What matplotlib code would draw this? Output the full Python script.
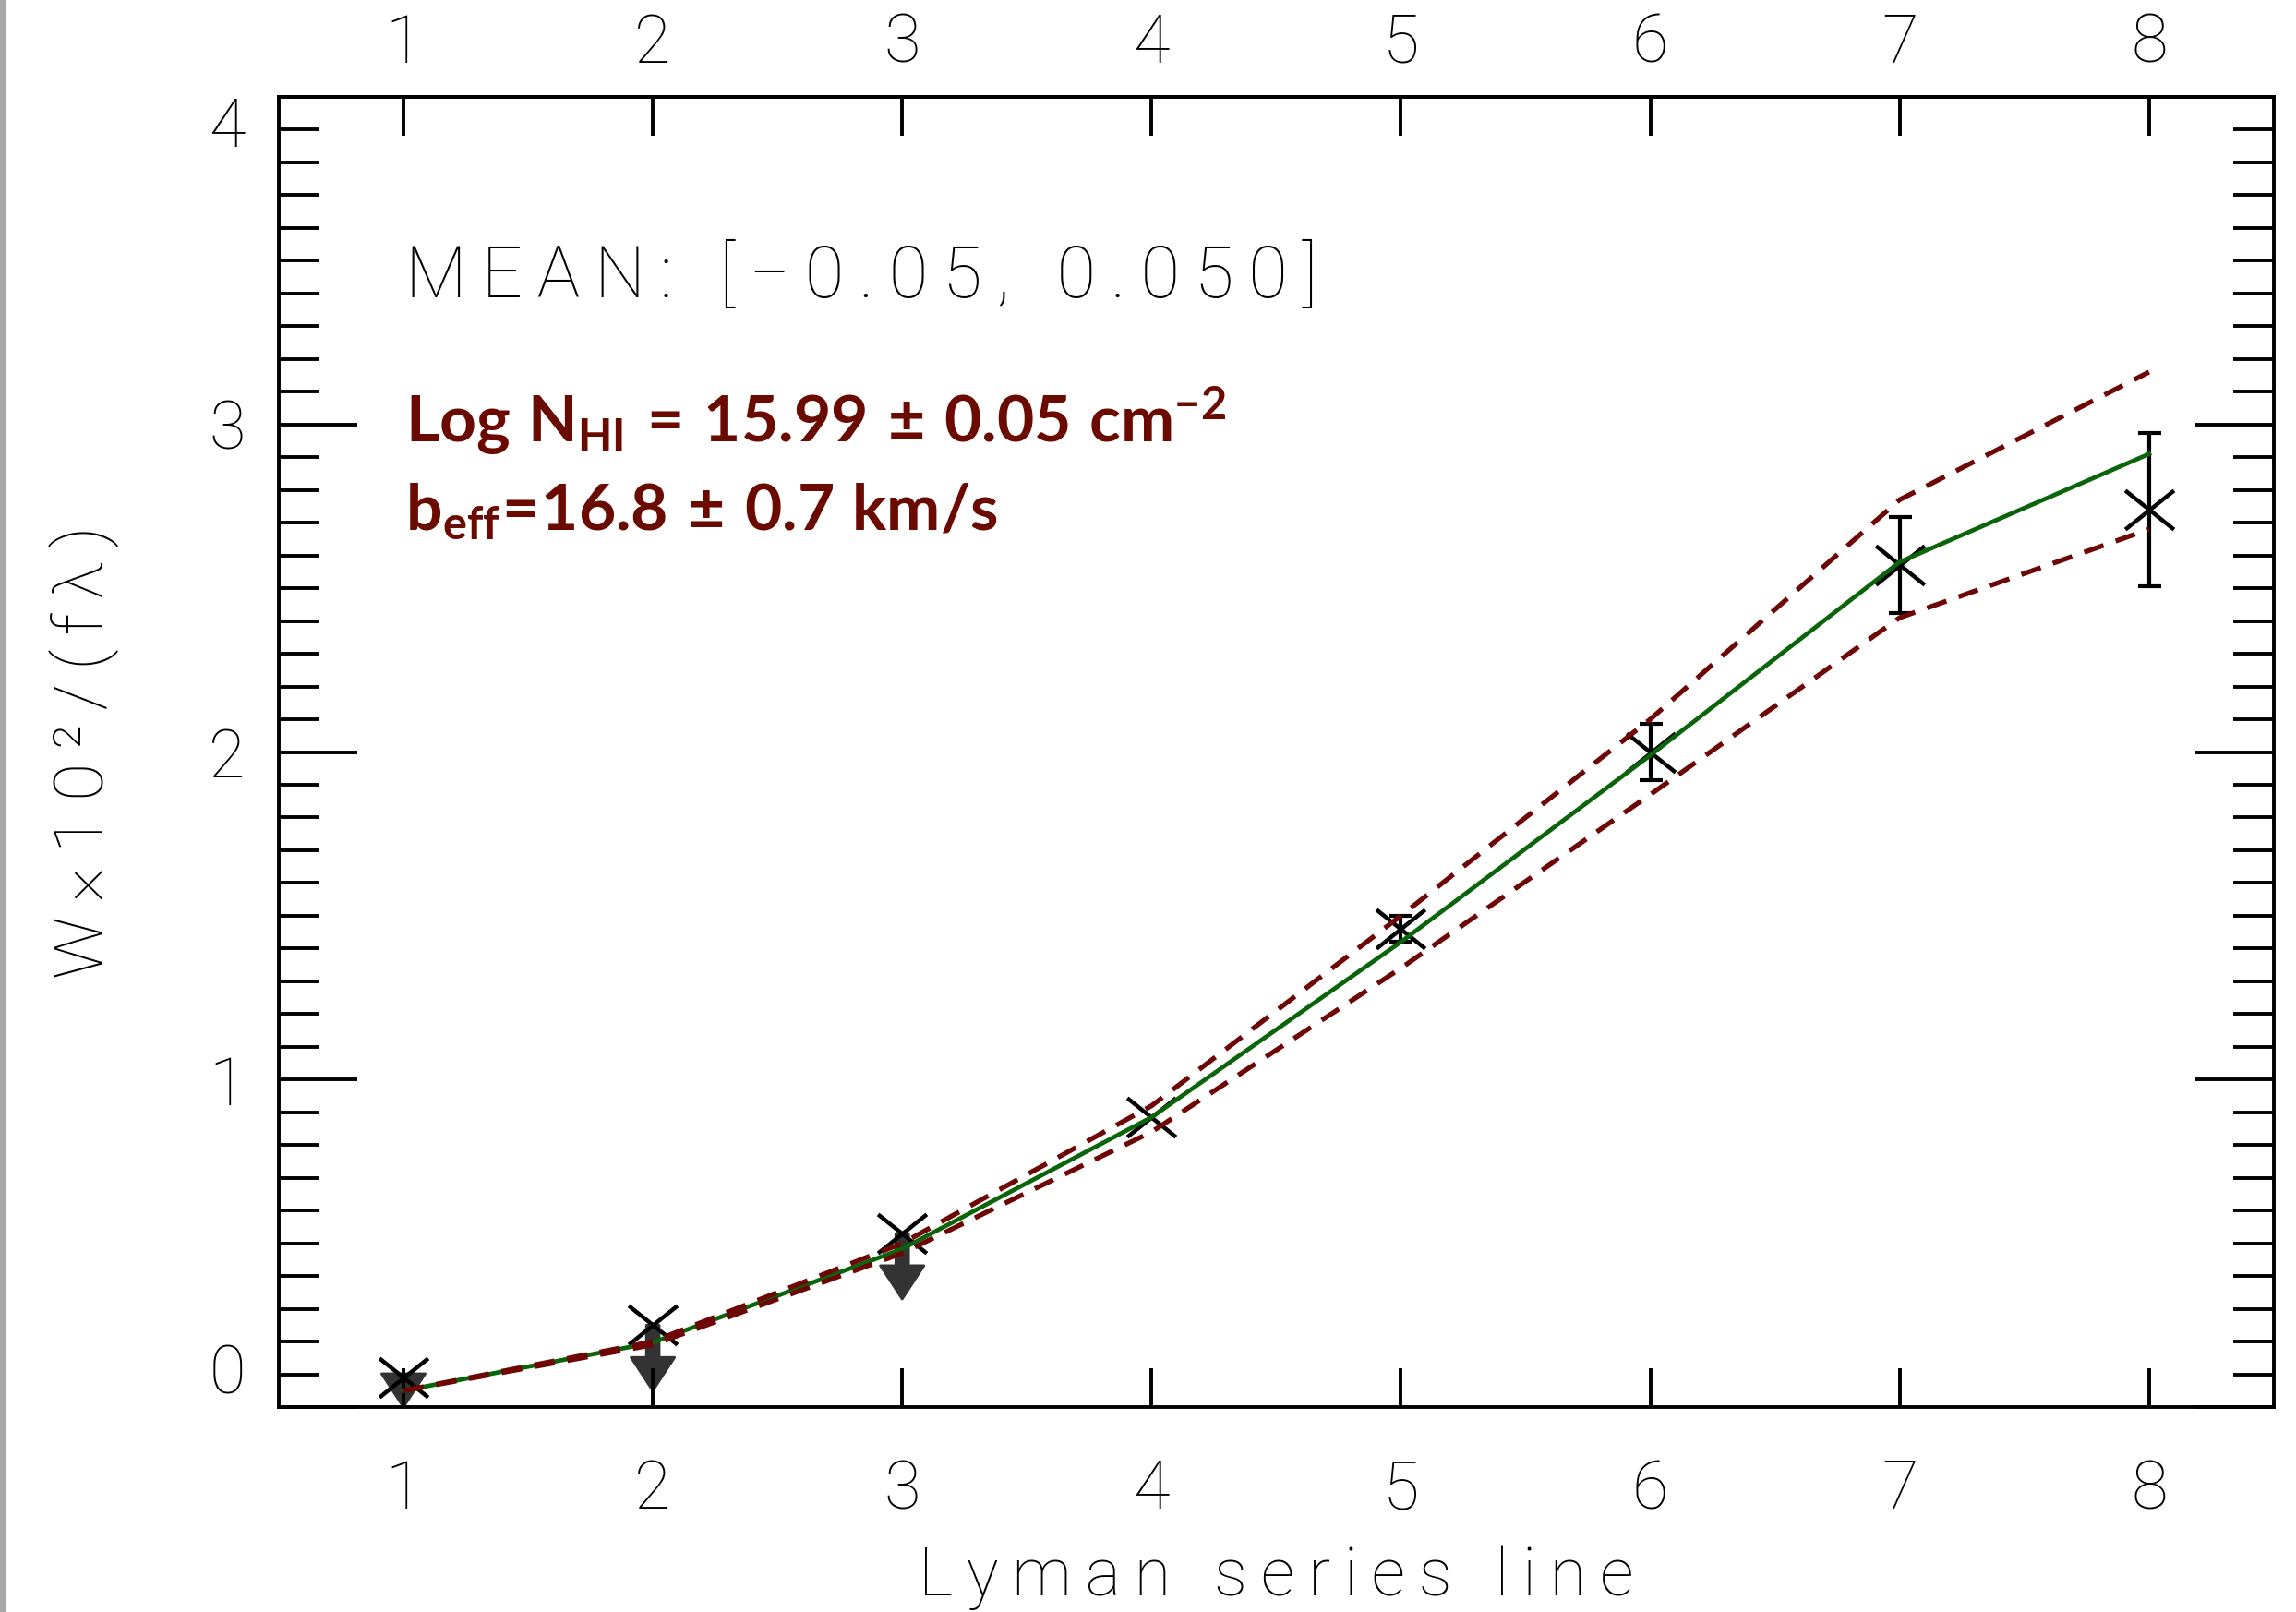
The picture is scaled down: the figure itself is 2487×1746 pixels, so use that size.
import numpy as np
import matplotlib
matplotlib.use("Agg")
import matplotlib.pyplot as plt
from matplotlib import font_manager as fm
from matplotlib.path import Path
from matplotlib.patches import Rectangle
from matplotlib.ticker import MultipleLocator

# Lyman series line index
lines = [1, 2, 3, 4, 5, 6, 7, 8]
# measured W x 10^2 / (f lambda)
w_obs = [0.09, 0.25, 0.53, 0.885, 1.46, 2.00, 2.57, 2.74]
w_err = [0.0, 0.0, 0.0, 0.0, 0.04, 0.085, 0.147, 0.235]
upper_limit = [True, True, True, False, False, False, False, False]
# curve of growth model and its +/- range
w_fit = [0.05, 0.197, 0.483, 0.885, 1.42, 1.99, 2.58, 2.91]
w_fit_hi = [0.05, 0.20, 0.50, 0.92, 1.50, 2.10, 2.77, 3.16]
w_fit_lo = [0.05, 0.19, 0.47, 0.84, 1.34, 1.87, 2.41, 2.68]

y_ticks = [0, 1, 2, 3, 4]
y_ticklabels = ["0", "1", "2", "3", "4"]
mean_text = "MEAN: [\u22120.05, 0.050]"
x_title = "Lyman series line"
y_title = "W\u00d710\u00b2/(f\u03bb)"
fit_line1 = r"$\mathrm{Log\ N_{HI}\,=\,15.99\,\pm\,0.05\ cm^{-2}}$"
fit_line2 = r"$\mathrm{b_{eff}\!=\!16.8\,\pm\,0.7\ km/s}$"


def pick_family(names, weights):
    for name in names:
        for f in fm.fontManager.ttflist:
            if f.name == name and f.weight in weights:
                return name
    return "DejaVu Sans"


def spaced(s):
    # wide letter spacing like the original plotting fonts
    return "\u2009".join(s)


thin_font = pick_family(["Roboto", "Lato", "Open Sans", "Inter"], (200, 300, "light"))
bold_font = pick_family(["Lato", "Roboto", "Open Sans"], (700, "bold"))

plt.rcParams["font.family"] = [thin_font, "DejaVu Sans"]
plt.rcParams["font.weight"] = "light"
plt.rcParams["lines.scale_dashes"] = False
plt.rcParams["mathtext.fontset"] = "custom"
plt.rcParams["mathtext.rm"] = bold_font + ":bold"
plt.rcParams["mathtext.bf"] = bold_font + ":bold"
plt.rcParams["mathtext.it"] = bold_font + ":bold"

fig = plt.figure(figsize=(12.435, 8.73), dpi=200)
ax = fig.add_axes([0.1214, 0.1271, 0.8689, 0.8128])
fig.add_artist(Rectangle((0, 0), 0.002, 1, transform=fig.transFigure, color="#a8a8a8"))

x = np.array(lines, dtype=float)
y = np.array(w_obs)
err = np.array(w_err)
lim = np.array(upper_limit)

# upper limit arrows
tips = np.maximum(y - 0.2, 0.0)
for xi, yi, ti in zip(x[lim], y[lim], tips[lim]):
    ax.annotate("", xy=(xi, ti), xytext=(xi, yi),
                arrowprops=dict(arrowstyle="simple,head_length=13,head_width=17,tail_width=5",
                                color="#333333", shrinkA=0, shrinkB=0, mutation_scale=1),
                zorder=1)

# error bars on detected lines
has_err = err > 0
ax.errorbar(x[has_err], y[has_err], yerr=err[has_err], fmt="none", ecolor="black",
            elinewidth=1.5, capsize=4.5, capthick=1.5, zorder=2)

xmark = Path([(-1, -0.8), (1, 0.8), (-1, 0.8), (1, -0.8)],
             [Path.MOVETO, Path.LINETO, Path.MOVETO, Path.LINETO])
ax.plot(x, y, linestyle="none", marker=xmark, markersize=19, markeredgewidth=1.6,
        markeredgecolor="black", markerfacecolor="none", zorder=3)

ax.plot(x, w_fit, color="#0a640a", lw=1.7, zorder=4)
ax.plot(x, w_fit_hi, color="#6e0606", lw=1.9, dashes=(8, 5), zorder=5)
ax.plot(x, w_fit_lo, color="#6e0606", lw=1.9, dashes=(8, 5), zorder=5)

ax.set_xlim(0.5, 8.5)
ax.set_ylim(0, 4)
ax.set_xticks(lines)
ax.set_yticks(y_ticks, y_ticklabels)
ax.yaxis.set_minor_locator(MultipleLocator(0.1))
ax.tick_params(which="both", direction="in", right=True, width=1.4, labelsize=26)
ax.tick_params(axis="x", which="major", length=15, pad=20)
ax.tick_params(axis="x", which="minor", bottom=False, top=False)
ax.tick_params(axis="y", which="major", length=30.5, pad=13)
ax.tick_params(axis="y", which="minor", length=16)
for s in ax.spines.values():
    s.set_linewidth(1.4)

labels = ax.get_yticklabels()
labels[0].set_va("bottom")
labels[-1].set_va("top")

top = ax.secondary_xaxis("top")
top.set_xticks(lines)
top.tick_params(direction="in", length=15, width=1.4, pad=8, labelsize=26)
top.spines["top"].set_linewidth(1.4)

ax.set_xlabel(spaced(x_title), fontsize=26, fontweight="light")
ax.xaxis.set_label_coords(0.5, -0.105)
ax.set_ylabel(spaced(y_title), fontsize=27, fontweight="light")
ax.yaxis.set_label_coords(-0.08, 0.5)

ax.text(0.0634, 0.847, spaced(mean_text), transform=ax.transAxes, fontsize=28,
        va="baseline")
ax.text(0.0634, 0.7364, fit_line1, transform=ax.transAxes, fontsize=25,
        color="#6a0a00", va="baseline")
ax.text(0.0634, 0.6695, fit_line2, transform=ax.transAxes, fontsize=25,
        color="#6a0a00", va="baseline")

fig.savefig("out.png", dpi=200)
